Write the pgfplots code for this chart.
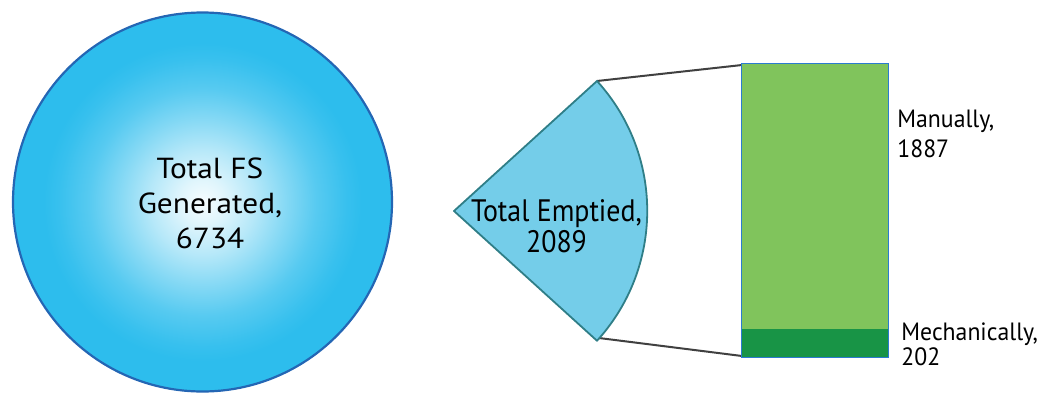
\documentclass[border=0pt]{standalone}
\usepackage{fontspec}
\setmainfont{PT Sans}
\newfontfamily\widefont[FakeStretch=1.08]{PT Sans}
\newfontfamily\condfont[FakeStretch=0.9]{PT Sans}
\newfontfamily\labfont[FakeStretch=0.95]{PT Sans}
\usepackage{pgfplots}
\pgfplotsset{compat=1.18}

\definecolor{fsblue}{RGB}{45,189,237}
\definecolor{fsedge}{RGB}{36,102,180}
\definecolor{wedgefill}{RGB}{116,205,233}
\definecolor{wedgeedge}{RGB}{47,126,135}
\definecolor{lightgreen}{RGB}{128,196,92}
\definecolor{darkgreen}{RGB}{24,148,70}
\definecolor{baredge}{RGB}{43,123,208}
\definecolor{connector}{RGB}{64,64,64}

% on a path, the radius 25bp of the shading meets the edge of the circle
\pgfdeclareradialshading{fsball}{\pgfpoint{0bp}{0bp}}{%
  color(0bp)=(white!96!fsblue);
  color(3bp)=(fsblue!15!white);
  color(7bp)=(fsblue!35!white);
  color(11bp)=(fsblue!58!white);
  color(15bp)=(fsblue!80!white);
  color(19bp)=(fsblue!95!white);
  color(21bp)=(fsblue);
  color(50bp)=(fsblue)}

\begin{document}
\begin{tikzpicture}
\useasboundingbox (0,0) rectangle (520pt,196.5pt);
% main canvas axis in pixel units (1 px = 0.5 pt)
\begin{axis}[
  at={(0,0)}, anchor=origin,
  x=0.5pt, y=0.5pt,
  xmin=0, xmax=1040, ymin=0, ymax=393,
  hide axis, clip=false,
]
% total FS generated
\path[shading=fsball, draw=fsedge, line width=1.1pt]
  (axis cs:202.5,191) circle[radius=94.75pt];
\node[font=\widefont\fontsize{14.5}{17.5}\selectfont, anchor=base]
  at (axis cs:210,215) {Total FS};
\node[font=\widefont\fontsize{14.5}{17.5}\selectfont, anchor=base]
  at (axis cs:210,180) {Generated,};
\node[font=\widefont\fontsize{14.5}{17.5}\selectfont, anchor=base]
  at (axis cs:210,145) {6734};
% connectors
\draw[connector, line width=1pt] (axis cs:597,312) -- (axis cs:742,328);
\draw[connector, line width=1pt] (axis cs:599,55) -- (axis cs:742,37);
% total emptied wedge
\filldraw[fill=wedgefill, draw=wedgeedge, line width=0.9pt, line join=round]
  (axis cs:454,182) -- (axis cs:597,312)
  arc[start angle=42.3, end angle=-42.3, radius=96.5pt] -- cycle;
\node[font=\condfont\fontsize{15.5}{16}\selectfont, anchor=base]
  at (axis cs:556.5,172) {Total Emptied,};
\node[font=\condfont\fontsize{15.5}{16}\selectfont, anchor=base]
  at (axis cs:556.5,141) {2089};
% labels of the bar
\node[font=\labfont\fontsize{12.5}{14}\selectfont, anchor=base west, inner sep=0pt]
  at (axis cs:897,266) {Manually,};
\node[font=\labfont\fontsize{12.5}{14}\selectfont, anchor=base west, inner sep=0pt]
  at (axis cs:897,236) {1887};
\node[font=\labfont\fontsize{12.5}{14}\selectfont, anchor=base west, inner sep=0pt]
  at (axis cs:901,53) {Mechanically,};
\node[font=\labfont\fontsize{12.5}{14}\selectfont, anchor=base west, inner sep=0pt]
  at (axis cs:901,28) {202};
\end{axis}

% stacked bar of emptied pits: mechanically 202, manually 1887 (total 2089)
\begin{axis}[
  at={(371pt,18pt)}, anchor=south west,
  scale only axis, width=73pt, height=146.5pt,
  xmin=-0.5, xmax=0.5, ymin=0, ymax=2089,
  ybar stacked, bar width=73pt,
  hide axis, clip=false,
]
\addplot[fill=darkgreen, draw=none] coordinates {(0,202)};
\addplot[fill=lightgreen, draw=none] coordinates {(0,1887)};
\draw[baredge, line width=1pt] (axis cs:-0.5,0) rectangle (axis cs:0.5,2089);
\end{axis}
\end{tikzpicture}
\end{document}
